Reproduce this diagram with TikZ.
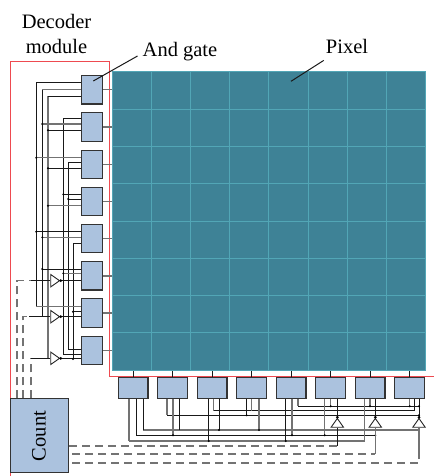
\documentclass[tikz,border=0pt]{standalone}
\usepackage{fontspec}
\setmainfont{Liberation Serif}
\usetikzlibrary{shapes.geometric}
\definecolor{gatefill}{HTML}{ABC2DE}
\definecolor{arrayfill}{HTML}{3E8296}
\definecolor{gridline}{HTML}{52A6B6}
\definecolor{redline}{HTML}{EE4A50}
\tikzset{
  gate/.style={draw=black!80, fill=gatefill, line width=1.1pt, inner sep=0pt},
  lgate/.style={gate, minimum width=21pt, minimum height=28.3pt},
  bgate/.style={gate, minimum width=29.6pt, minimum height=21pt},
  inv/.style={isosceles triangle, draw=black!85, fill=white, line width=0.9pt, inner sep=0pt,
    isosceles triangle stretches, minimum width=12.4pt, minimum height=8.8pt, anchor=lower side},
  wire/.style={black!90, line width=1pt},
  gwire/.style={black!55, line width=1.3pt},
  dashwire/.style={black!55, line width=1.3pt, dash pattern=on 8pt off 5pt},
  lbl/.style={font=\fontsize{20.5}{25}\selectfont, inner sep=0pt}
}
\begin{document}
\begin{tikzpicture}[x=1pt, y=-1pt]
\useasboundingbox (0,0) rectangle (434,476);

\draw[redline, line width=1pt] (10.5,476) |- (109.5,61.7) |- (434,376.5);

\node[fill=arrayfill, draw=gridline, line width=0.8pt, minimum width=313.5pt, minimum height=298.5pt, inner sep=0pt] (array) at (268.7,221) {};
\foreach \i in {1,...,7}
  \draw[gridline, line width=0.8pt] (112+\i*39.2,72) -- (112+\i*39.2,370);
\foreach \i in {1,...,7}
  \draw[gridline, line width=0.8pt] (112,72+\i*37.25) -- (425.5,72+\i*37.25);

\foreach \i in {1,...,8}
  \node[lgate] (g\i) at (91.7,89.85+\i*37.2-37.2) {};
\foreach \i in {1,...,8}
  \node[bgate] (h\i) at (133.2+\i*39.5-39.5,387.7) {};
\node[gate, minimum width=58pt, minimum height=74pt] (count) at (39.5,435.3) {};
\node[lbl, rotate=90] (countlabel) at (39,436) {Count};

\foreach \i in {1,...,8}
  \draw[gwire] (g\i.east) -- (g\i.east -| array.west);
\foreach \i in {1,...,8}
  \draw[wire] (h\i.north) -- (h\i.north |- array.south);

\coordinate (bA) at (36.3,306.7);
\coordinate (bB) at (42.3,316.7);
\coordinate (bC) at (48,358.3);
\coordinate (bD) at (63.3,354.3);
\coordinate (bE) at (68.3,349.3);
\coordinate (bF) at (73,359);

\foreach \b/\y/\s in {bA/82.3/wire,bB/89.3/wire,bC/96.3/gwire,bD/118.3/wire,bE/162.7/wire,bF/243.3/wire}
  \draw[\s] (\b |- 0,\y) -- (\b);

\foreach \g/\y/\b/\s/\d in {1/82.3/bA/wire/0,1/89.3/bB/gwire/0,1/96.3/bC/wire/0,2/118.3/bD/wire/0,2/124/bB/gwire/1.1,2/130.3/bC/wire/1.1,
    3/157.7/bA/gwire/1.1,3/162.7/bE/wire/0,3/168.3/bC/wire/1.1,4/194.3/bD/wire/1.1,4/199/bE/wire/1.1,4/205.7/bC/gwire/1.1,
    5/231.7/bA/wire/1.1,5/237.3/bB/gwire/1.1,5/243.3/bF/wire/0,6/269/bB/wire/1.1,6/273.3/bD/gwire/1.1,
    7/306.7/bA/gwire/0,7/311.7/bF/wire/1.1,8/349.3/bE/wire/0,8/354.3/bD/wire/0}{
  \draw[\s] (g\g.west |- 0,\y) -- (\b |- 0,\y);
  \fill[black] (\b |- 0,\y) circle (\d);
}

\node[inv] (i1) at (50.3,280.7) {};
\node[inv] (i2) at (50.3,316.7) {};
\node[inv] (i3) at (50.3,358.3) {};

\coordinate (d1) at (17,398.3);
\coordinate (d2) at (23,398.3);
\coordinate (d3) at (31,398.3);
\draw[dashwire] (d1) |- (31,280.7);
\draw[dashwire] (d2) |- (29,316.7);
\draw[dashwire] (d3) -- (d3 |- i3.lower side);
\draw[wire] (31,280.7) -- (i1.lower side);
\draw[wire] (29,316.7) -- (i2.lower side);
\draw[wire] (d3 |- i3.lower side) -- (i3.lower side);
\draw[wire] (i1.apex) -- (g6.west |- i1.apex);
\draw[wire] (i2.apex) -- (g7.west |- i2.apex);
\draw[wire] (i3.apex) -- (g8.west |- i3.apex);
\foreach \i in {1,2,3}
  \fill[black] (i\i.apex) circle (1.5);
\fill[black] (bF) circle (1.1);

\coordinate (rA) at (364.7,441);
\coordinate (rB) at (375.3,435.3);
\coordinate (rC) at (419,430);
\coordinate (rD) at (419,415.3);
\coordinate (rE) at (414.7,410.7);
\coordinate (rF) at (419,406.3);

\foreach \r/\x/\s in {rA/129/gwire,rB/136/wire,rC/143.3/gwire,rD/167/wire,rE/213.3/wire,rF/298/wire}
  \draw[\s] (\x,0 |- \r) -- (\r);

\foreach \g/\x/\r/\s/\d in {1/129/rA/gwire/0,1/136/rB/wire/0,1/143.3/rC/wire/0,2/167/rD/gwire/0,2/173/rB/gwire/1.1,2/179.7/rC/wire/0,
    3/208.7/rA/wire/1.1,3/213.3/rE/gwire/0,3/219/rC/wire/1.1,4/246.7/rD/wire/1.1,4/251.7/rE/gwire/0,4/259/rC/gwire/1.1,
    5/285.7/rA/wire/1.1,5/292/rB/gwire/1.1,5/298/rF/gwire/0,6/324.7/rB/gwire/1.1,6/330.7/rF/gwire/1.1,
    7/364.7/rA/gwire/0,7/370/rF/gwire/1.1,8/409.7/rF/gwire/1.1,8/414.7/rE/wire/0}{
  \draw[\s] (h\g.south -| \x,0) -- (\x,0 |- \r);
  \fill[black] (\x,0 |- \r) circle (\d);
}

\node[inv, shape border rotate=90] (i6) at (337.3,427.7) {};
\node[inv, shape border rotate=90] (i7) at (375.3,427.7) {};
\node[inv, shape border rotate=90] (i8) at (419,427.7) {};

\draw[wire] (h6.south -| i6.apex) -- (i6.apex);
\draw[wire] (h7.south -| i7.apex) -- (i7.apex);
\draw[wire] (h8.south -| i8.apex) -- (i8.apex);
\foreach \i in {6,7,8}
  \fill[black] (i\i.apex) circle (1.5);
\foreach \r in {rB,rD,rF}
  \fill[black] (\r) circle (1.1);

\coordinate (t6) at (337.3,446);
\coordinate (t7) at (375.3,454);
\coordinate (t8) at (419,454);
\draw[wire] (i6.lower side) -- (t6);
\draw[gwire] (i7.lower side) -- (t7);
\draw[gwire] (i8.lower side) -- (t8);
\draw[dashwire] (count.east |- t6) -- (t6);
\draw[dashwire] (72,454) -- (t7);
\draw[dashwire] (72,463) -| (t8);

\node[lbl, align=center] (decoder) at (56.5,34) {Decoder\\module};
\node[lbl] (andlabel) at (180,52) {And gate};
\node[lbl] (pixellabel) at (347,46) {Pixel};
\coordinate (andtip) at (93.3,81);
\coordinate (pixeltip) at (291,81.3);
\draw[wire] ([shift={(-5,4)}]andlabel.west) -- (andtip);
\draw[wire] ([shift={(-2,7)}]pixellabel.south west) -- (pixeltip);
\end{tikzpicture}
\end{document}
